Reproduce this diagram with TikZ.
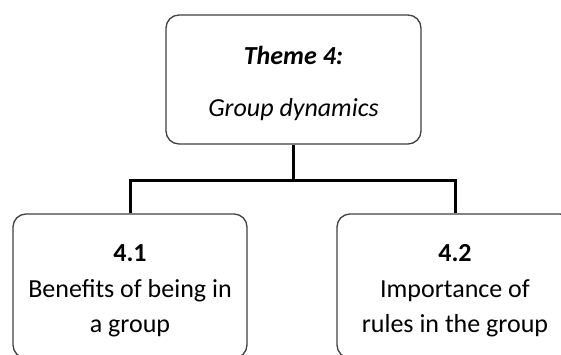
\documentclass[tikz,border=0pt]{standalone}
\usepackage{fontspec}
\setmainfont{Carlito}
\begin{document}
\begin{tikzpicture}[x=1pt,y=1pt,
  box/.style={draw=black!75, line width=1.3pt, rounded corners=13pt, fill=white,
    align=center, inner sep=0pt, font=\fontsize{26}{35.5}\selectfont},
  conn/.style={draw=black, line width=3pt}]
\useasboundingbox (0,0) rectangle (561,354);
\begin{scope}
\clip (0,0) rectangle (561,354);
\node[box, minimum width=255pt, minimum height=129pt] (top) at (293.5,274.5)
  {\rule{0pt}{25.5pt}\textbf{\textit{Theme 4:}}\\[16.5pt]\textit{Group dynamics}};
\node[box, minimum width=234pt, minimum height=144pt] (left) at (130,68)
  {\rule{0pt}{26.5pt}\textbf{4.1}\\Benefits of being in\\a group};
\node[box, minimum width=236pt, minimum height=144pt] (right) at (455,68)
  {\rule{0pt}{26.5pt}\textbf{4.2}\\Importance of\\rules in the group};
\coordinate (j) at (293.5,174);
\draw[conn] (top.south) -- (j);
\draw[conn] (left.north) |- (j) -| (right.north);
\end{scope}
\end{tikzpicture}
\end{document}
